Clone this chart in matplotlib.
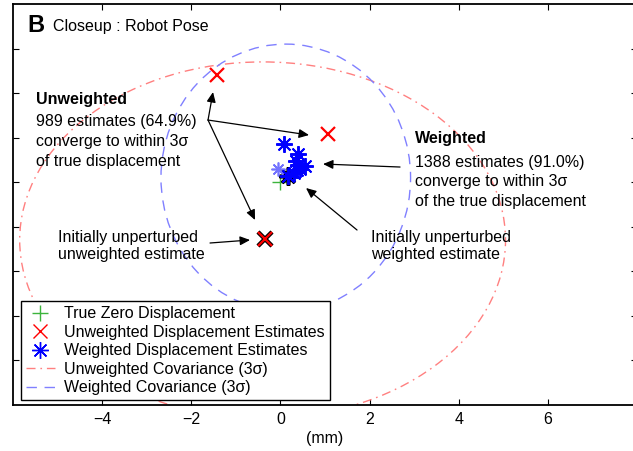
import matplotlib
matplotlib.use("Agg")
import matplotlib.pyplot as plt
from matplotlib.patches import Ellipse
from matplotlib.lines import Line2D

plt.rcParams['font.family'] = ['Liberation Sans', 'DejaVu Sans']
plt.rcParams['axes.unicode_minus'] = True

# ---------------- data (mm) ----------------
true_x = [0.0]
true_y = [0.0]

unw_x = [-1.42, 1.07, -0.35]
unw_y = [2.40, 1.08, -1.27]
unw_init = (-0.35, -1.27)

w_x = [0.07, 0.39, 0.34, 0.55, 0.39, 0.37, 0.45, 0.30, 0.18]
w_y = [0.85, 0.63, 0.48, 0.37, 0.39, 0.27, 0.30, 0.20, 0.14]
w_faint = (-0.06, 0.30)
w_init = (0.18, 0.14)

# 3-sigma covariance ellipses: centre, full width, full height, angle
unw_cov = dict(center=(-0.40, -1.30), width=10.9, height=8.0, angle=0.0)
w_cov = dict(center=(0.12, 0.10), width=5.6, height=6.0, angle=0.0)

xticks = [-4, -2, 0, 2, 4, 6]
yticks = [-4, -3, -2, -1, 0, 1, 2, 3]

# ---------------- figure ----------------
fig = plt.figure(figsize=(6.33, 4.51), dpi=100)
ax = fig.add_axes([13/633, 46/451, 624/633, 401/451])
ax.set_xlim(-6, 8)
ax.set_ylim(-5, 4)

red_c = (1.0, 0.5, 0.5)
blue_c = (0.5, 0.5, 1.0)
unw_ls = (0, (6.5, 3.5, 1.2, 3.5))
w_ls = (0, (7.5, 5.5))

ax.add_patch(Ellipse(unw_cov['center'], unw_cov['width'], unw_cov['height'],
                     angle=unw_cov['angle'], fill=False, edgecolor=red_c,
                     lw=1.0, linestyle=unw_ls, zorder=2))
ax.add_patch(Ellipse(w_cov['center'], w_cov['width'], w_cov['height'],
                     angle=w_cov['angle'], fill=False, edgecolor=blue_c,
                     lw=1.0, linestyle=w_ls, zorder=2))

ast = (8, 2, 0)
green_c = '#3cb43c'
ax.plot(true_x, true_y, '+', color=green_c, ms=12, mew=1.0, zorder=3)
# initial estimates (black outlines)
ax.plot([unw_init[0]], [unw_init[1]], 'x', color='black', ms=10, mew=3.2, zorder=4)
ax.plot([w_init[0]], [w_init[1]], marker=ast, ls='none', color='black', ms=13, mew=2.6, zorder=4)
ax.plot([w_faint[0]], [w_faint[1]], marker=ast, ls='none', color=(0.45, 0.45, 1.0), ms=10, mew=1.2, zorder=4)
ax.plot(unw_x, unw_y, 'x', color='red', ms=10, mew=1.6, zorder=5)
ax.plot(w_x, w_y, marker=ast, ls='none', color='blue', ms=12, mew=1.4, zorder=5)

# ---------------- annotations ----------------
fs = 11.5
def px(x, y):
    return ((x - 280.4) / 44.57, (182.2 - y) / 44.57)

ax.text(*px(36, 99), 'Unweighted', fontsize=fs, fontweight='bold', va='center', ha='left')
for i, s in enumerate(['989 estimates (64.9%)', 'converge to within 3σ',
                       'of true displacement']):
    ax.text(*px(36, 121 + i * 20), s, fontsize=fs, va='center', ha='left')

ax.text(*px(415, 138), 'Weighted', fontsize=fs, fontweight='bold', va='center', ha='left')
for i, s in enumerate(['1388 estimates (91.0%)', 'converge to within 3σ',
                       'of the true displacement']):
    ax.text(*px(415, 162 + i * 19.5), s, fontsize=fs, va='center', ha='left')

ax.text(*px(58, 237), 'Initially unperturbed', fontsize=fs, va='center', ha='left')
ax.text(*px(58, 255), 'unweighted estimate', fontsize=fs, va='center', ha='left')
ax.text(*px(371, 237), 'Initially unperturbed', fontsize=fs, va='center', ha='left')
ax.text(*px(371, 255), 'weighted estimate', fontsize=fs, va='center', ha='left')

aprops = dict(arrowstyle='-|>,head_length=0.6,head_width=0.27', color='black',
              lw=0.9, shrinkA=0, shrinkB=0)
origin = px(208, 120)
for tip in [px(213, 92), px(309, 135), px(255, 220)]:
    ax.annotate('', xy=tip, xytext=origin, arrowprops=aprops, zorder=6)
ax.annotate('', xy=px(250, 240), xytext=px(210, 243), arrowprops=aprops)
ax.annotate('', xy=px(323, 164), xytext=px(400, 167), arrowprops=aprops)
ax.annotate('', xy=px(306, 188), xytext=px(357, 230), arrowprops=aprops)

ax.text(*px(27, 25), 'B', fontsize=17, fontweight='bold', va='center', ha='left')
ax.text(*px(53, 26), 'Closeup : Robot Pose', fontsize=fs, va='center', ha='left')

# ---------------- axes styling ----------------
ax.set_xticks(xticks)
ax.set_yticks(yticks)
ax.set_yticklabels([])
ax.tick_params(direction='in', length=4.5, width=0.8, top=True, right=True,
               labelsize=fs, pad=5)
for sp in ax.spines.values():
    sp.set_linewidth(1.3)
ax.set_xlabel('(mm)', fontsize=fs, labelpad=3)

handles = [
    Line2D([], [], ls='none', marker='+', color=green_c, ms=12, mew=1.0),
    Line2D([], [], ls='none', marker='x', color='red', ms=10, mew=1.0),
    Line2D([], [], ls='none', marker=ast, color='blue', ms=12, mew=1.0),
    Line2D([], [], color=red_c, lw=1.0, ls=unw_ls),
    Line2D([], [], color=blue_c, lw=1.0, ls=w_ls),
]
labels = ['True Zero Displacement', 'Unweighted Displacement Estimates',
          'Weighted Displacement Estimates', 'Unweighted Covariance (3σ)',
          'Weighted Covariance (3σ)']
leg = ax.legend(handles, labels, loc='lower left', bbox_to_anchor=(0.0128, 0.0125),
                borderaxespad=0, fontsize=fs, fancybox=False, framealpha=1,
                edgecolor='black', numpoints=1, handlelength=1.8,
                handletextpad=0.6, labelspacing=0.22, borderpad=0.3)
leg.get_frame().set_linewidth(1.0)
leg.set_zorder(10)

fig.savefig('out.png', dpi=100)
